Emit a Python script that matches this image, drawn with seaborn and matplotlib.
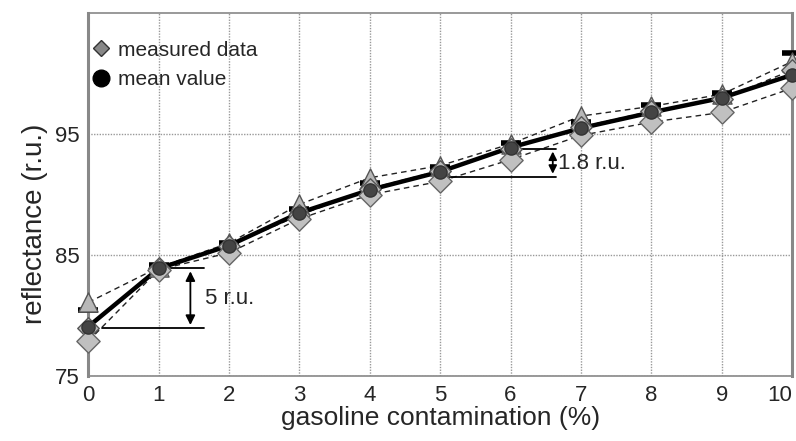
import matplotlib
matplotlib.use("Agg")
import matplotlib.pyplot as plt
import seaborn as sns
import pandas as pd
import numpy as np

sns.set_theme(style="white")
plt.rcParams['font.family'] = ['Liberation Sans', 'DejaVu Sans']

conc = [0, 1, 2, 3, 4, 5, 6, 7, 8, 9, 10]
series_upper = [81.1, 84.0, 86.0, 89.2, 91.4, 92.4, 94.2, 96.5, 97.3, 98.3, 101.0]
series_middle = [79.0, 83.9, 85.8, 88.3, 90.5, 92.0, 93.8, 95.6, 96.9, 97.9, 100.3]
series_lower = [77.9, 83.8, 85.2, 88.0, 90.0, 91.1, 92.9, 94.9, 96.0, 96.8, 98.8]
series_bar = [80.5, 84.2, 86.0, 88.8, 91.0, 92.3, 94.3, 96.0, 97.4, 98.4, 101.7]
mean_value = [79.1, 83.9, 85.8, 88.5, 90.4, 91.9, 93.9, 95.5, 96.8, 98.0, 99.9]
yticks = [75, 85, 95]

fig, ax = plt.subplots(figsize=(7.96, 4.41), dpi=100)
fig.subplots_adjust(left=0.111, right=0.995, top=0.97, bottom=0.147)

df = pd.DataFrame({"x": conc, "up": series_upper, "mid": series_middle,
                   "low": series_lower, "bar": series_bar, "mean": mean_value})

for col in ["up", "mid", "low"]:
    sns.lineplot(data=df, x="x", y=col, ax=ax, color="#222222", lw=1.0,
                 linestyle=(0, (4, 3)), zorder=3)
sns.lineplot(data=df, x="x", y="mean", ax=ax, color="black", lw=3.2, zorder=4)

kw = dict(clip_on=False)
ax.scatter(df["x"], df["bar"], marker="_", s=200, color="black", linewidths=4, zorder=5, **kw)
ax.scatter(df["x"], df["up"], marker="^", s=190, color="#b8b8b8", edgecolor="#555555", linewidths=1.0, zorder=5, **kw)
ax.scatter(df["x"], df["mid"], marker="D", s=120, color="#bbbbbb", edgecolor="#555555", linewidths=1.0, zorder=5, **kw)
ax.scatter(df["x"], df["low"], marker="D", s=140, color="#c0c0c0", edgecolor="#666666", linewidths=1.0, zorder=5, **kw)
ax.scatter(df["x"], df["mean"], marker="o", s=90, color="#444444", edgecolor="#333333", zorder=6, **kw)

ax.set_xlim(0, 10)
ax.set_ylim(75, 105)
ax.set_xticks(conc)
ax.set_xticklabels([str(c) for c in conc])
ax.set_yticks(yticks)
ax.tick_params(axis="both", labelsize=16, direction="out", length=5, width=1, color="#888888", pad=1)
ax.set_xlabel("gasoline contamination (%)", fontsize=19, labelpad=0)
ax.set_ylabel("reflectance (r.u.)", fontsize=20)
ax.yaxis.set_label_coords(-0.058, 0.42)

# keep the last x tick label inside the figure
last = ax.get_xticklabels()[-1]
last.set_horizontalalignment("right")

ax.grid(True, which="major", color="#999999", linestyle=(0, (1, 1)), lw=1.0)
ax.set_axisbelow(True)
for s in ["left", "right", "bottom", "top"]:
    ax.spines[s].set_color("#888888")
ax.spines["left"].set_linewidth(2.2)
ax.spines["right"].set_linewidth(2.2)
ax.spines["bottom"].set_linewidth(1.2)
ax.spines["top"].set_linewidth(1.2)

# annotations
ax.plot([0.2, 1.65], [79.0, 79.0], color="black", lw=1.3, zorder=4)
ax.plot([1.1, 1.65], [83.9, 83.9], color="black", lw=1.3, zorder=4)
ax.annotate("", xy=(1.45, 79.0), xytext=(1.45, 83.9),
            arrowprops=dict(arrowstyle="<|-|>", color="black", lw=1.3, mutation_scale=14))
ax.text(1.66, 81.4, "5 r.u.", fontsize=16, va="center", ha="left")

ax.plot([5.0, 6.65], [91.5, 91.5], color="black", lw=1.3, zorder=4)
ax.plot([6.05, 6.65], [93.8, 93.8], color="black", lw=1.3, zorder=4)
ax.annotate("", xy=(6.6, 91.5), xytext=(6.6, 93.8),
            arrowprops=dict(arrowstyle="<|-|>", color="black", lw=1.3, mutation_scale=12))
ax.text(6.68, 92.6, "1.8 r.u.", fontsize=16, va="center", ha="left")

# legend
handles = [plt.Line2D([], [], marker="D", ls="none", markersize=8, markerfacecolor="#888888",
                      markeredgecolor="#333333", markeredgewidth=1.0),
           plt.Line2D([], [], marker="o", ls="none", markersize=12, markerfacecolor="black",
                      markeredgecolor="black")]
ax.legend(handles, ["measured data", "mean value"], loc="upper left", frameon=False,
          fontsize=15, handletextpad=0.2, borderaxespad=0.3, labelspacing=0.5,
          bbox_to_anchor=(-0.02, 0.965), handlelength=1.2)

fig.savefig("out.png", dpi=100)
